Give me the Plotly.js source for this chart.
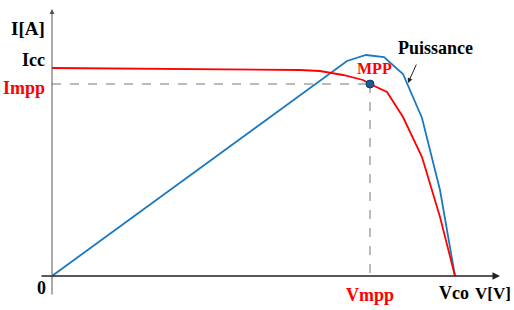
<!DOCTYPE html>
<html><head><meta charset="utf-8">
<script src="https://cdn.plot.ly/plotly-3.0.1.min.js"></script>
<style>html,body{margin:0;padding:0;background:#fff}#c{width:514px;height:310px}</style>
</head><body><div id="c"></div>
<script>
// I-V curve (red)
const vIV = [0, 24.8, 26.8, 29.1, 31.1, 31.8, 33.5, 35.1, 37.0, 38.8, 40.3];
const iIV = [20.8, 20.6, 20.5, 20.1, 19.6, 19.2, 18.4, 15.9, 11.9, 5.9, 0];
// P-V curve (blue)
const vPV = [0, 29.5, 31.4, 33.2, 35.1, 37.0, 38.8, 40.3];
const pPV = [0, 21.5, 22.1, 21.9, 20.2, 15.8, 8.6, 0];
// characteristic points
const Icc = 20.8, Impp = 19.2, Vmpp = 31.8, Vco = 40.3;
const labels = {y: 'I[A]', x: 'V[V]', icc: 'Icc', impp: 'Impp', vmpp: 'Vmpp', vco: 'Vco', zero: '0', mpp: 'MPP', power: 'Puissance'};

const F = 'Liberation Serif, Times New Roman, serif';
const RED = '#ff0000', BLUE = '#1a78c2';

const traces = [
  {x: [0, Vmpp], y: [Impp, Impp], mode: 'lines', line: {color: '#777', width: 1, dash: 'dash'}, hoverinfo: 'skip'},
  {x: [Vmpp, Vmpp], y: [Impp, 0], mode: 'lines', line: {color: '#777', width: 1, dash: 'dash'}, hoverinfo: 'skip'},
  {x: vPV, y: pPV, mode: 'lines', line: {color: BLUE, width: 1.8}},
  {x: vIV, y: iIV, mode: 'lines', line: {color: RED, width: 1.8}},
  {x: [Vmpp], y: [Impp], mode: 'markers', marker: {color: '#1f5a96', size: 8, line: {color: '#123c66', width: 1}}}
];

function lab(text, x, y, color, xanchor, size) {
  return {text: '<b>' + text + '</b>', x: x, y: y, xref: 'x', yref: 'y', showarrow: false,
    xanchor: xanchor || 'center', yanchor: 'middle', font: {family: F, size: size || 18, color: color}};
}

const annotations = [
  // axes with arrows
  {x: 44.8, y: 0, ax: -1.2, ay: 0, xref: 'x', yref: 'y', axref: 'x', ayref: 'y', text: '', showarrow: true,
   arrowhead: 2, arrowsize: 1, arrowwidth: 1.5, arrowcolor: '#222'},
  {x: 0, y: 26.7, ax: 0, ay: -2.0, xref: 'x', yref: 'y', axref: 'x', ayref: 'y', text: '', showarrow: true,
   arrowhead: 2, arrowsize: 1, arrowwidth: 1, arrowcolor: '#555'},
  // Puissance pointer
  {x: 35.6, y: 19.3, ax: 36.5, ay: 21.3, xref: 'x', yref: 'y', axref: 'x', ayref: 'y', text: '', showarrow: true,
   arrowhead: 2, arrowsize: 1, arrowwidth: 1, arrowcolor: '#222'},
  lab(labels.y, -0.5, 24.8, '#000', 'right', 19),
  lab(labels.icc, -0.5, Icc + 0.8, '#000', 'right', 18),
  lab(labels.impp, -0.5, Impp - 0.4, RED, 'right', 18),
  lab(labels.zero, -0.4, -1.2, '#000', 'right', 18),
  lab(labels.vmpp, Vmpp, -1.9, RED, 'center', 18),
  lab(labels.vco, Vco - 0.1, -1.7, '#000', 'center', 18),
  {text: '<b>' + labels.x + '</b>', x: 1.028, y: 0.0104, xref: 'paper', yref: 'paper', showarrow: false,
   xanchor: 'right', yanchor: 'middle', font: {family: F, size: 17, color: '#000'}},
  lab(labels.mpp, 32.2, 20.8, RED, 'center', 16),
  lab(labels.power, 38.3, 22.8, '#000', 'center', 18)
];

const layout = {
  width: 514, height: 310, showlegend: false,
  margin: {l: 40, r: 14, t: 8, b: 14},
  paper_bgcolor: '#fff', plot_bgcolor: '#fff',
  xaxis: {range: [-1.2, 44.8], visible: false, fixedrange: true},
  yaxis: {range: [-2.0, 26.8], visible: false, fixedrange: true},
  annotations: annotations
};
Plotly.newPlot('c', traces, layout, {displayModeBar: false, staticPlot: true});
</script></body></html>
